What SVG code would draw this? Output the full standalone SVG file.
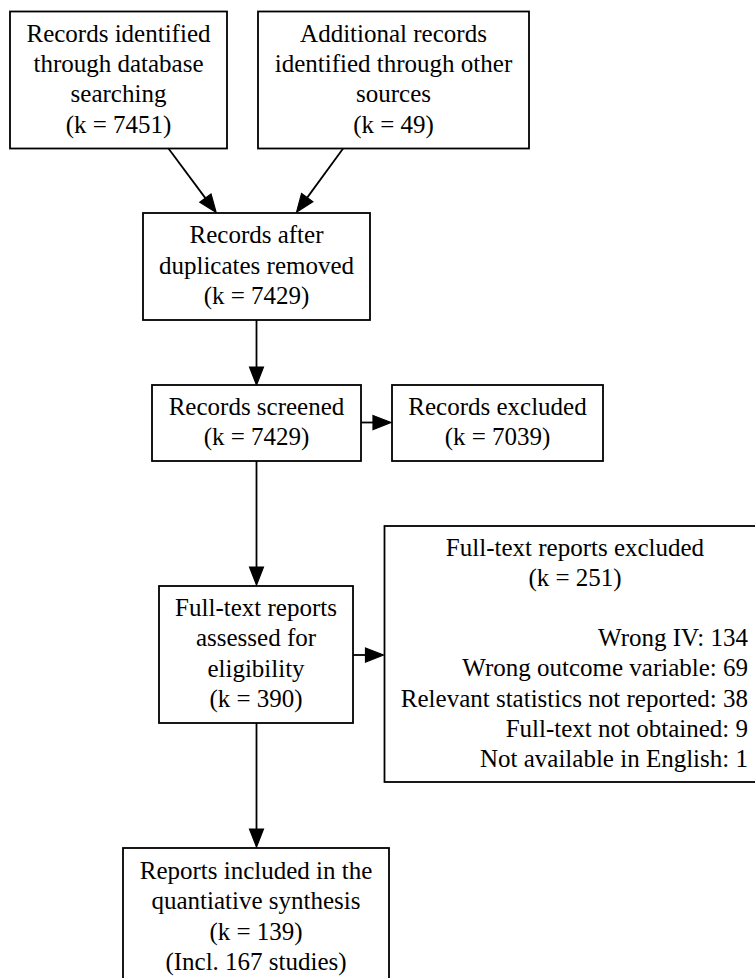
<svg xmlns="http://www.w3.org/2000/svg" width="755" height="978" viewBox="0 0 755 978">
<style>
.box{fill:#fff;stroke:#000;stroke-width:1.8}
.edge{fill:none;stroke:#000;stroke-width:1.8}
text{font-family:"Liberation Serif","Times New Roman",serif;font-size:25px;fill:#000;text-anchor:middle}
.r{text-anchor:end}
</style>
<defs>
<marker id="arr" markerUnits="userSpaceOnUse" markerWidth="22" markerHeight="18" refX="0" refY="7" orient="auto" overflow="visible">
<path d="M0,0 L18,7 L0,14 z" fill="#000" stroke="#000" stroke-width="1.2"/>
</marker>
</defs>
<rect width="755" height="978" fill="#fff"/>
<g id="connectors">
<line class="edge" x1="168.3" y1="148.3" x2="205.4" y2="198.1" marker-end="url(#arr)"/>
<line class="edge" x1="343.3" y1="148.3" x2="307.2" y2="197.6" marker-end="url(#arr)"/>
<line class="edge" x1="256.5" y1="320" x2="256.5" y2="367" marker-end="url(#arr)"/>
<line class="edge" x1="361" y1="422.5" x2="373" y2="422.5" marker-end="url(#arr)"/>
<line class="edge" x1="256.5" y1="461" x2="256.5" y2="567" marker-end="url(#arr)"/>
<line class="edge" x1="353" y1="655" x2="365.5" y2="655" marker-end="url(#arr)"/>
<line class="edge" x1="256.5" y1="723" x2="256.5" y2="829" marker-end="url(#arr)"/>
</g>
<g id="db">
<rect class="box" x="10" y="11.5" width="217" height="137"/>
<text x="118.5" y="41.7">Records identified</text>
<text x="118.5" y="72">through database</text>
<text x="118.5" y="102.3">searching</text>
<text x="118.5" y="132.6">(k = 7451)</text>
</g>
<g id="other">
<rect class="box" x="258" y="11.5" width="271" height="137"/>
<text x="393.5" y="41.7">Additional records</text>
<text x="393.5" y="72">identified through other</text>
<text x="393.5" y="102.3">sources</text>
<text x="393.5" y="132.6">(k = 49)</text>
</g>
<g id="dedup">
<rect class="box" x="143" y="213" width="227" height="107"/>
<text x="256.5" y="243.4">Records after</text>
<text x="256.5" y="273.7">duplicates removed</text>
<text x="256.5" y="304">(k = 7429)</text>
</g>
<g id="screened">
<rect class="box" x="152" y="385" width="209" height="76"/>
<text x="256.5" y="415">Records screened</text>
<text x="256.5" y="445.3">(k = 7429)</text>
</g>
<g id="excluded">
<rect class="box" x="392" y="385" width="211" height="76"/>
<text x="497.5" y="415">Records excluded</text>
<text x="497.5" y="445.3">(k = 7039)</text>
</g>
<g id="assessed">
<rect class="box" x="159" y="586" width="194" height="137"/>
<text x="256" y="616">Full-text reports</text>
<text x="256" y="646.3">assessed for</text>
<text x="256" y="676.6">eligibility</text>
<text x="256" y="706.9">(k = 390)</text>
</g>
<g id="ftexcluded">
<rect class="box" x="384.5" y="526" width="381" height="256"/>
<text x="575" y="555.7">Full-text reports excluded</text>
<text x="575" y="586">(k = 251)</text>
<text class="r" x="748" y="646">Wrong IV: 134</text>
<text class="r" x="748" y="676.3">Wrong outcome variable: 69</text>
<text class="r" x="748" y="706.6">Relevant statistics not reported: 38</text>
<text class="r" x="748" y="736.9">Full-text not obtained: 9</text>
<text class="r" x="748" y="767.2">Not available in English: 1</text>
</g>
<g id="included">
<rect class="box" x="123" y="848" width="266" height="137"/>
<text x="256" y="879">Reports included in the</text>
<text x="256" y="909.3">quantiative synthesis</text>
<text x="256" y="939.6">(k = 139)</text>
<text x="256" y="969.9">(Incl. 167 studies)</text>
</g>
</svg>
